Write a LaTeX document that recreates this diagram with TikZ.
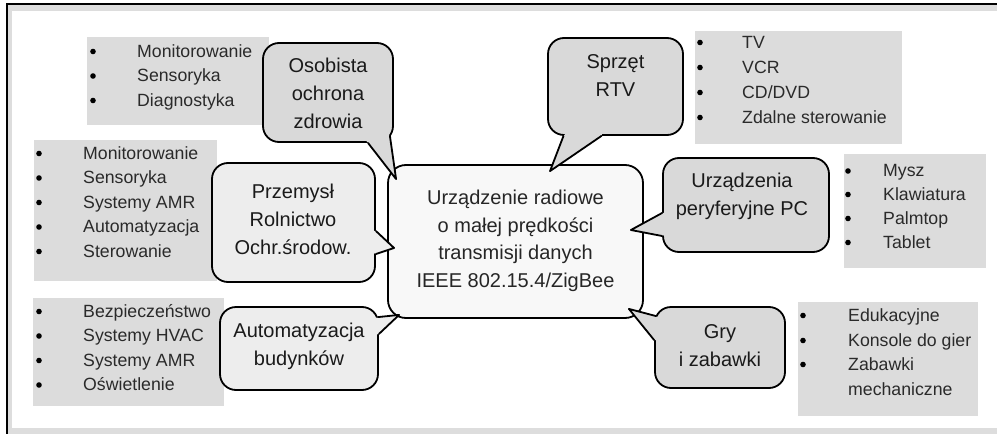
\documentclass[tikz,border=0pt]{standalone}
\usepackage{fontspec}
\setmainfont{Liberation Sans}
\usetikzlibrary{calc}
\definecolor{listgray}{HTML}{DCDCDC}
\definecolor{darkfill}{HTML}{D9D9D9}
\definecolor{lightfill}{HTML}{EDEDED}
\definecolor{cenfill}{HTML}{F8F8F8}
\definecolor{framegray}{HTML}{DDDDDD}
\definecolor{listtext}{HTML}{2A2A2A}
\definecolor{bubtext}{HTML}{1A1A1A}
\newcommand{\myitem}[5]{%
  \fill (#2,#4-5.5) circle (2.8pt);
  \node[ltext] (#1) at (#3,#4) {#5};}
\begin{document}
\begin{tikzpicture}[x=1pt,y=-1pt,
  bubble/.style={draw=black, line width=1.8pt, rounded corners=16pt, inner sep=0pt, line join=round},
  ptr/.style={draw=black, line width=1.8pt, line join=round, line cap=round},
  ctext/.style={align=center, font=\fontsize{20}{28}\selectfont, text=bubtext, inner sep=0pt},
  ltext/.style={anchor=base west, font=\fontsize{17.7}{24}\selectfont, text=listtext, inner sep=0pt}
]
\useasboundingbox (0,0) rectangle (997,434);
\fill[white] (0,0) rectangle (997,434);
% frame
\fill[framegray] (7,4) rectangle (997,11);
\fill[framegray] (7,4) rectangle (12,434);
\fill[framegray] (7,428) rectangle (997,434);
\draw[line width=1.5pt] (997,4) -- (7,4) -- (7,434);

% list boxes
\fill[listgray] (87,37) rectangle (269,125);
\myitem{la1}{93}{137}{57}{Monitorowanie}
\myitem{la2}{93}{137}{81.5}{Sensoryka}
\myitem{la3}{93}{137}{106}{Diagnostyka}

\fill[listgray] (34,140) rectangle (217,281);
\myitem{lb1}{39}{83}{159}{Monitorowanie}
\myitem{lb2}{39}{83}{183.5}{Sensoryka}
\myitem{lb3}{39}{83}{208}{Systemy AMR}
\myitem{lb4}{39}{83}{232.5}{Automatyzacja}
\myitem{lb5}{39}{83}{257}{Sterowanie}

\fill[listgray] (33,298) rectangle (224,406);
\myitem{lc1}{39}{83}{317}{Bezpieczeństwo}
\myitem{lc2}{39}{83}{341.5}{Systemy HVAC}
\myitem{lc3}{39}{83}{366}{Systemy AMR}
\myitem{lc4}{39}{83}{390.5}{Oświetlenie}

\fill[listgray] (695,31) rectangle (902,144);
\myitem{ld1}{700}{742}{48}{TV}
\myitem{ld2}{700}{742}{73}{VCR}
\myitem{ld3}{700}{742}{98}{CD/DVD}
\myitem{ld4}{700}{742}{123}{Zdalne sterowanie}

\fill[listgray] (844,154) rectangle (986,268);
\myitem{le1}{848}{883}{176.5}{Mysz}
\myitem{le2}{848}{883}{200}{Klawiatura}
\myitem{le3}{848}{883}{224}{Palmtop}
\myitem{le4}{848}{883}{248}{Tablet}

\fill[listgray] (798,302) rectangle (978,416);
\myitem{lf1}{803}{848}{321}{Edukacyjne}
\myitem{lf2}{803}{848}{346}{Konsole do gier}
\myitem{lf3}{803}{848}{370}{Zabawki}
\node[ltext] (lf4) at (848,395) {mechaniczne};

% central box
\node[bubble, fill=cenfill, minimum width=255pt, minimum height=153pt, rounded corners=18pt] (cen) at (515.5,241.5) {};

% callouts
\node[bubble, fill=darkfill, minimum width=130pt, minimum height=99pt] (osob) at (328,92.5) {};
\fill[darkfill] ($(osob.south)+(40,0)$) -- ($(cen.north west)+(9,15)$) -- ($(osob.south east)+(-4,-7)$) -- (osob.center) -- cycle;
\draw[ptr] ($(osob.south)+(40,0)$) -- ($(cen.north west)+(9,15)$) -- ($(osob.south east)+(-4,-7)$);

\node[bubble, fill=lightfill, minimum width=163pt, minimum height=119pt] (prz) at (293.5,222.5) {};
\fill[lightfill] ($(prz.east)+(0,8.5)$) -- ($(cen.west)+(7,6.5)$) -- ($(prz.east)+(0,31.5)$) -- (prz.center) -- cycle;
\draw[ptr] ($(prz.east)+(0,8.5)$) -- ($(cen.west)+(7,6.5)$) -- ($(prz.east)+(0,31.5)$);

\node[bubble, fill=lightfill, minimum width=158pt, minimum height=83pt] (aut) at (299,348.5) {};
\fill[lightfill] ($(aut.north east)+(-1,11)$) -- ($(cen.south west)+(12,-4)$) -- ($(aut.east)+(0,-14.5)$) -- (aut.center) -- cycle;
\draw[ptr] ($(aut.north east)+(-1,11)$) -- ($(cen.south west)+(12,-4)$) -- ($(aut.east)+(0,-14.5)$);

\node[bubble, fill=darkfill, minimum width=135pt, minimum height=97pt] (sp) at (615.5,86.5) {};
\fill[darkfill] ($(sp.south)+(-52,0)$) -- ($(cen.north)+(34.5,7)$) -- ($(sp.south)+(-14,0)$) -- (sp.center) -- cycle;
\draw[ptr] ($(sp.south)+(-52,0)$) -- ($(cen.north)+(34.5,7)$) -- ($(sp.south)+(-14,0)$);

\node[bubble, fill=darkfill, minimum width=166pt, minimum height=94pt] (per) at (746,205) {};
\fill[darkfill] ($(per.west)+(0,8)$) -- ($(cen.east)+(-13,-11.5)$) -- ($(per.west)+(0,31)$) -- (per.center) -- cycle;
\draw[ptr] ($(per.west)+(0,8)$) -- ($(cen.east)+(-13,-11.5)$) -- ($(per.west)+(0,31)$);

\node[bubble, fill=darkfill, minimum width=130pt, minimum height=81pt] (gry) at (720,347.5) {};
\fill[darkfill] ($(gry.north west)+(2,10)$) -- ($(cen.south east)+(-15,-10)$) -- ($(gry.west)+(0,-7.5)$) -- (gry.center) -- cycle;
\draw[ptr] ($(gry.north west)+(2,10)$) -- ($(cen.south east)+(-15,-10)$) -- ($(gry.west)+(0,-7.5)$);

% texts
\node[ctext, font=\fontsize{20}{27.5}\selectfont, text=black!85] (cent) at (515.5,241) {Urządzenie radiowe\\o małej prędkości\\transmisji danych\\IEEE 802.15.4/ZigBee};
\node[ctext] (osobt) at (328,93.5) {Osobista\\ochrona\\zdrowia};
\node[ctext] (przt) at (293,219) {Przemysł\\Rolnictwo\\Ochr.środow.};
\node[ctext] (autt) at (299,346) {Automatyzacja\\budynków};
\node[ctext] (spt) at (615.5,75.5) {Sprzęt\\RTV};
\node[ctext] (pert) at (742,196.5) {Urządzenia\\peryferyjne PC};
\node[ctext] (gryt) at (720,346) {Gry\\i zabawki};
\end{tikzpicture}
\end{document}
